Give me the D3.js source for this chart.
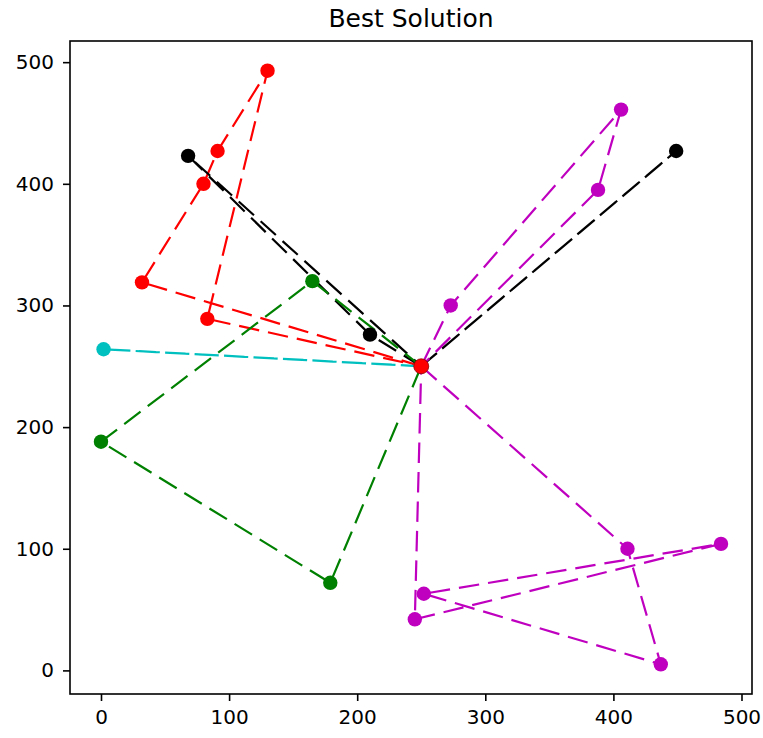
<!DOCTYPE html>
<html>
<head>
<meta charset="utf-8">
<script src="https://cdn.jsdelivr.net/npm/d3@7"></script>
<style>
  body { margin: 0; background: #fff; }
  svg text { font-family: "DejaVu Sans", sans-serif; }
</style>
</head>
<body>
<div id="chart"></div>
<script>
// depot and vehicle routes (customer coordinates, in visiting order)
var depot = [250, 250];
var routeColors = ["#ff0000", "#000000", "#000000", "#00bfbf", "#008000", "#bf00bf", "#bf00bf"];
var routeX = [
  [32, 80, 91, 130, 83],
  [210, 68],
  [449],
  [2],
  [165, 0, 179],
  [273, 406, 388],
  [411, 437, 252, 484, 245]
];
var routeY = [
  [319, 400, 427, 493, 289],
  [276, 423],
  [427],
  [264],
  [320, 188, 72],
  [300, 461, 395],
  [100, 5, 63, 104, 42]
];
var xTicks = [0, 100, 200, 300, 400, 500];
var yTicks = [0, 100, 200, 300, 400, 500];

var width = 763, height = 738;
var margin = {top: 41, right: 11, bottom: 44, left: 70};

var svg = d3.select("#chart").append("svg")
  .attr("width", width)
  .attr("height", height);

// matplotlib style 5% padding around the data
var allX = [depot[0]].concat(d3.merge(routeX));
var allY = [depot[1]].concat(d3.merge(routeY));
var xExt = d3.extent(allX), yExt = d3.extent(allY);
var xPad = (xExt[1] - xExt[0]) * 0.05, yPad = (yExt[1] - yExt[0]) * 0.05;

var x = d3.scaleLinear()
  .domain([xExt[0] - xPad, xExt[1] + xPad])
  .range([margin.left, width - margin.right]);
var y = d3.scaleLinear()
  .domain([yExt[0] - yPad, yExt[1] + yPad])
  .range([height - margin.bottom, margin.top]);

var plot = svg.append("g");

var line = d3.line()
  .x(function(d) { return x(d[0]); })
  .y(function(d) { return y(d[1]); });

// routes start and end at the depot
routeX.forEach(function(xs, i) {
  var pts = [depot];
  xs.forEach(function(v, j) { pts.push([v, routeY[i][j]]); });
  pts.push(depot);
  plot.append("path")
    .attr("d", line(pts))
    .attr("fill", "none")
    .attr("stroke", routeColors[i])
    .attr("stroke-width", 2.2)
    .attr("stroke-dasharray", "20.5,9");
});

routeX.forEach(function(xs, i) {
  plot.selectAll(null)
    .data(xs.map(function(v, j) { return [v, routeY[i][j]]; }))
    .enter().append("circle")
      .attr("cx", function(d) { return x(d[0]); })
      .attr("cy", function(d) { return y(d[1]); })
      .attr("r", 7.2)
      .attr("fill", routeColors[i]);
});

plot.append("circle")
  .attr("cx", x(depot[0]))
  .attr("cy", y(depot[1]))
  .attr("r", 7.5)
  .attr("fill", "#ff0000")
  .attr("stroke", "#8b0000")
  .attr("stroke-width", 0.8);

// axes
var xAxis = svg.append("g")
  .attr("transform", "translate(0," + (height - margin.bottom) + ")")
  .call(d3.axisBottom(x).tickValues(xTicks).tickSize(7).tickPadding(9));
var yAxis = svg.append("g")
  .attr("transform", "translate(" + margin.left + ",0)")
  .call(d3.axisLeft(y).tickValues(yTicks).tickSize(7).tickPadding(9));

[xAxis, yAxis].forEach(function(a) {
  a.select(".domain").remove();
  a.selectAll("line").attr("stroke", "#000").attr("stroke-width", 1.6);
  a.selectAll("text")
    .attr("fill", "#000")
    .style("font-size", "20px")
    .style("font-family", "DejaVu Sans");
});

svg.append("rect")
  .attr("x", margin.left)
  .attr("y", margin.top)
  .attr("width", width - margin.left - margin.right)
  .attr("height", height - margin.top - margin.bottom)
  .attr("fill", "none")
  .attr("stroke", "#000")
  .attr("stroke-width", 1.6);

svg.append("text")
  .attr("x", (margin.left + width - margin.right) / 2)
  .attr("y", 27)
  .attr("text-anchor", "middle")
  .style("font-size", "25px")
  .text("Best Solution");
</script>
</body>
</html>
